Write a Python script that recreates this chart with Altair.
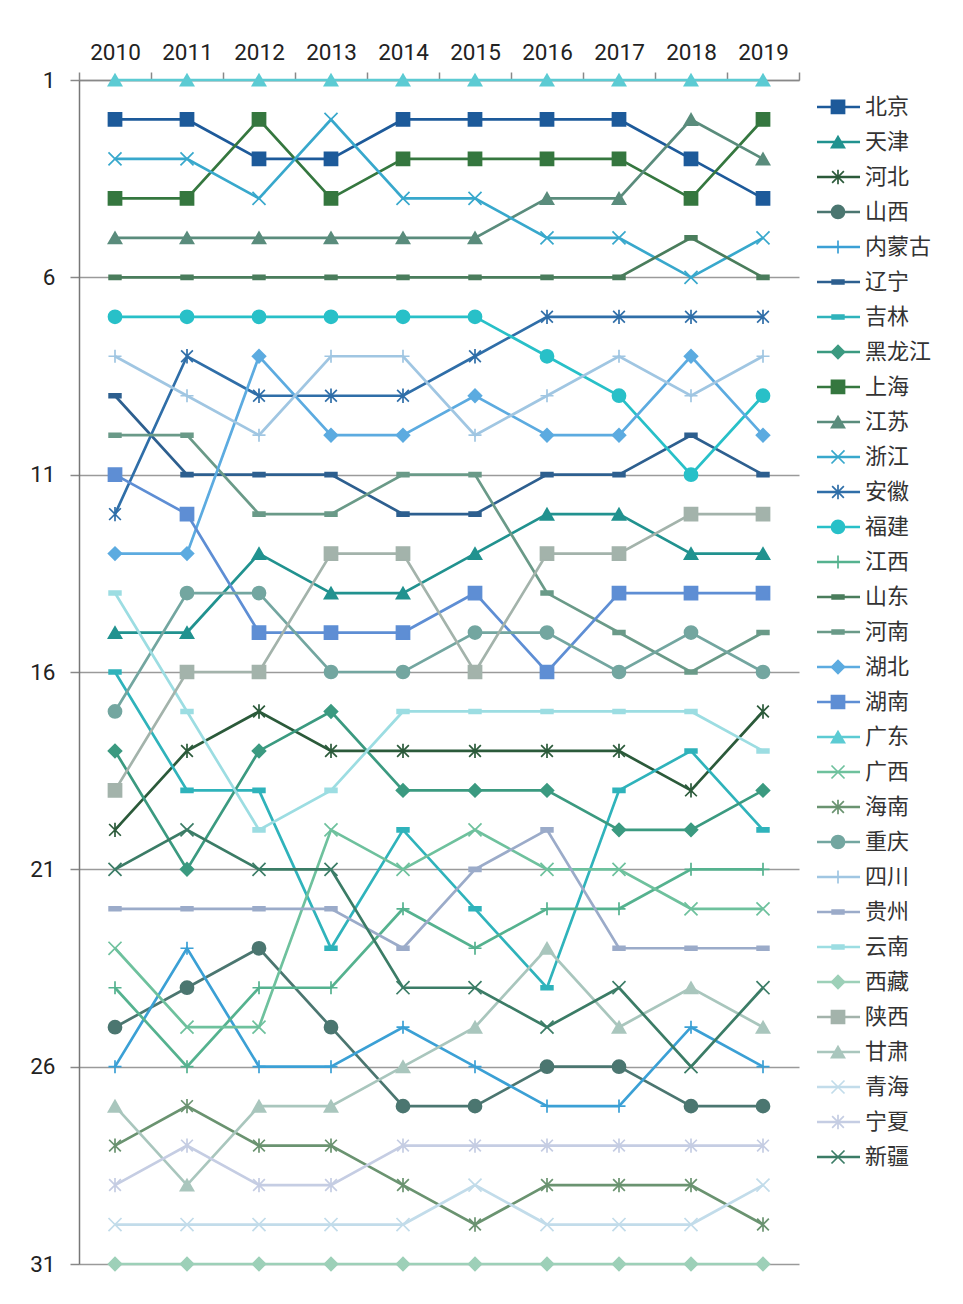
import altair as alt
import pandas as pd

years = ["2010", "2011", "2012", "2013", "2014", "2015", "2016", "2017", "2018", "2019"]
provinces = ["北京", "天津", "河北", "山西", "内蒙古", "辽宁", "吉林", "黑龙江", "上海", "江苏",
             "浙江", "安徽", "福建", "江西", "山东", "河南", "湖北", "湖南", "广东", "广西",
             "海南", "重庆", "四川", "贵州", "云南", "西藏", "陕西", "甘肃", "青海", "宁夏", "新疆"]

rank_2010 = [2, 15, 20, 25, 26, 9, 16, 18, 4, 5, 3, 12, 7, 24, 6, 10, 13, 11, 1, 23, 28, 17, 8, 22, 14, 31, 19, 27, 30, 29, 21]
rank_2011 = [2, 15, 18, 24, 23, 11, 19, 21, 4, 5, 3, 8, 7, 26, 6, 10, 13, 12, 1, 25, 27, 14, 9, 22, 17, 31, 16, 29, 30, 28, 20]
rank_2012 = [3, 13, 17, 23, 26, 11, 19, 18, 2, 5, 4, 9, 7, 24, 6, 12, 8, 15, 1, 25, 28, 14, 10, 22, 20, 31, 16, 27, 30, 29, 21]
rank_2013 = [3, 14, 18, 25, 26, 11, 23, 17, 4, 5, 2, 9, 7, 24, 6, 12, 10, 15, 1, 20, 28, 16, 8, 22, 19, 31, 13, 27, 30, 29, 21]
rank_2014 = [2, 14, 18, 27, 25, 12, 20, 19, 3, 5, 4, 9, 7, 22, 6, 11, 10, 15, 1, 21, 29, 16, 8, 23, 17, 31, 13, 26, 30, 28, 24]
rank_2015 = [2, 13, 18, 27, 26, 12, 22, 19, 3, 5, 4, 8, 7, 23, 6, 11, 9, 14, 1, 20, 30, 15, 10, 21, 17, 31, 16, 25, 29, 28, 24]
rank_2016 = [2, 12, 18, 26, 27, 11, 24, 19, 3, 4, 5, 7, 8, 22, 6, 14, 10, 16, 1, 21, 29, 15, 9, 20, 17, 31, 13, 23, 30, 28, 25]
rank_2017 = [2, 12, 18, 26, 27, 11, 19, 20, 3, 4, 5, 7, 9, 22, 6, 15, 10, 14, 1, 21, 29, 16, 8, 23, 17, 31, 13, 25, 30, 28, 24]
rank_2018 = [3, 13, 19, 27, 25, 10, 18, 20, 4, 2, 6, 7, 11, 21, 5, 16, 8, 14, 1, 22, 29, 15, 9, 23, 17, 31, 12, 24, 30, 28, 26]
rank_2019 = [4, 13, 17, 27, 26, 11, 20, 19, 2, 3, 5, 7, 9, 21, 6, 15, 10, 14, 1, 22, 30, 16, 8, 23, 18, 31, 12, 25, 29, 28, 24]

ranks_by_year = [rank_2010, rank_2011, rank_2012, rank_2013, rank_2014,
                 rank_2015, rank_2016, rank_2017, rank_2018, rank_2019]

colors = ["#1d5a9a", "#21928f", "#2b5a3a", "#4b7670", "#3ba0d5", "#2d5f8f", "#2fb3bb", "#3b9a80",
          "#35773f", "#5a8c7c", "#38a8cc", "#2f6ea8", "#28c0c8", "#55b28f", "#4a7d5c", "#6a9a88",
          "#5cabe0", "#5e8ed4", "#5ccbd3", "#6ec19d", "#6a9370", "#73a6a0", "#a0c6e2", "#9babc9",
          "#9cdde2", "#9dd0b8", "#a3b3ab", "#a9c6bd", "#c2dcea", "#c5cde3", "#3b7c66"]

SQ = "square"
TRI = "triangle-up"
CIR = "circle"
DIA = "diamond"
XS = "M-1,-1L1,1M-1,1L1,-1"
PLUS = "M-1,0L1,0M0,-1L0,1"
AST = "M-0.9,-0.9L0.9,0.9M-0.9,0.9L0.9,-0.9M0,-1.1L0,1.1"
DASH = "M-0.9,-0.3L0.9,-0.3L0.9,0.3L-0.9,0.3Z"
shapes = [SQ, TRI, AST, CIR, PLUS, DASH, DASH, DIA, SQ, TRI,
          XS, AST, CIR, PLUS, DASH, DASH, DIA, SQ, TRI, XS,
          AST, CIR, PLUS, DASH, DASH, DIA, SQ, TRI, XS, AST, XS]

rows = []
for yi, yr in enumerate(years):
    for pi, p in enumerate(provinces):
        rows.append({"year": yr, "province": p, "rank": ranks_by_year[yi][pi], "order": pi})
df = pd.DataFrame(rows)

color_scale = alt.Scale(domain=provinces, range=colors)
shape_scale = alt.Scale(domain=provinces, range=shapes)

x_enc = alt.X(
    "year:O",
    scale=alt.Scale(type="band", paddingInner=0, paddingOuter=0),
    bandPosition=0.5,
    axis=alt.Axis(orient="top", title=None, tickBand="extent", labelAngle=0,
                  labelFontSize=22.5, labelFont="Roboto", labelColor="#222222",
                  tickColor="#888888", domainColor="#888888", tickSize=8,
                  labelPadding=8, grid=False, domainWidth=1.5, tickWidth=1.5),
)
y_enc = alt.Y(
    "rank:Q",
    scale=alt.Scale(domain=[1, 31], reverse=True, nice=False, zero=False),
    axis=alt.Axis(values=[1, 6, 11, 16, 21, 26, 31], title=None, grid=True,
                  gridColor="#9a9a9a", gridWidth=1.5, tickSize=9, tickColor="#888888",
                  tickWidth=1.5, domainColor="#777777", domainWidth=1.5,
                  labelPadding=15, labelFontSize=22.5, labelFont="Roboto",
                  labelColor="#222222"),
)

base = alt.Chart(df).encode(x=x_enc, y=y_enc)

lines = base.mark_line(strokeWidth=2.7).encode(
    color=alt.Color("province:N", scale=color_scale, legend=None),
    detail="province:N",
    order=alt.Order("year:O"),
)
points = base.mark_point(filled=True, size=170, opacity=1, strokeWidth=1.7).encode(
    fill=alt.Fill("province:N", scale=color_scale, legend=None),
    stroke=alt.Stroke("province:N", scale=color_scale, legend=None),
    shape=alt.Shape("province:N", scale=shape_scale, legend=None),
)

main = alt.layer(lines, points).properties(width=720, height=1184)

leg_df = pd.DataFrame({"province": provinces, "idx": list(range(len(provinces)))})
leg_base = alt.Chart(leg_df).encode(
    y=alt.Y("idx:Q", scale=alt.Scale(domain=[-0.771, 33.057], reverse=True, nice=False, zero=False),
            axis=None)
)
leg_rule = leg_base.mark_rule(strokeWidth=2.7).encode(
    x=alt.value(8), x2=alt.value(51),
    color=alt.Color("province:N", scale=color_scale, legend=None),
)
leg_pt = leg_base.mark_point(filled=True, size=170, opacity=1, strokeWidth=1.7).encode(
    x=alt.value(29),
    fill=alt.Fill("province:N", scale=color_scale, legend=None),
    stroke=alt.Stroke("province:N", scale=color_scale, legend=None),
    shape=alt.Shape("province:N", scale=shape_scale, legend=None),
)
leg_txt = leg_base.mark_text(align="left", baseline="middle", fontSize=22,
                             font="Noto Sans CJK SC", color="#333333").encode(
    x=alt.value(56), text="province:N"
)
legend = alt.layer(leg_rule, leg_pt, leg_txt).properties(width=125, height=1184)

chart = alt.hconcat(main, legend, spacing=10, bounds="flush").properties(
    padding={"top": 33, "left": 21, "right": 5, "bottom": 5}
).configure_view(strokeWidth=0)

chart.save("out.html", embed_options={"renderer": "svg", "actions": False})
